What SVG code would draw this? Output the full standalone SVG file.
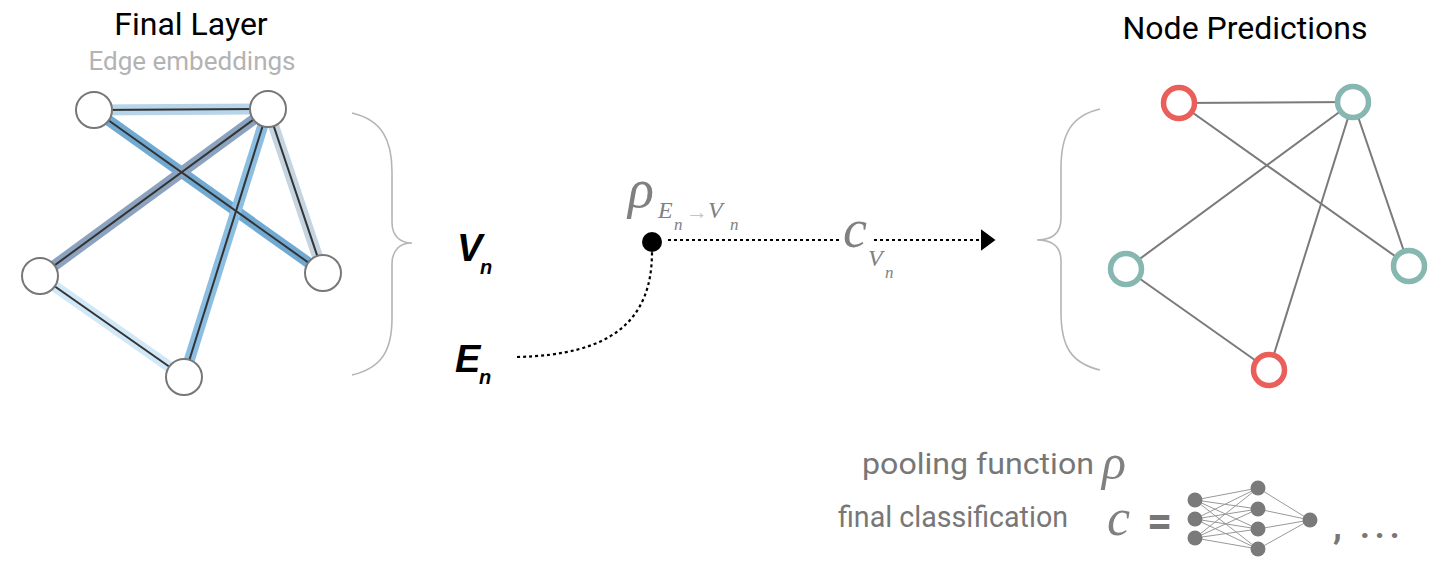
<svg xmlns="http://www.w3.org/2000/svg" width="1440" height="564" viewBox="0 0 1440 564">
<defs>
<style>
.title{font-family:Roboto,"Liberation Sans",sans-serif;font-size:32px;fill:#000;text-anchor:middle}
.sub{font-family:Roboto,"Liberation Sans",sans-serif;font-size:26px;fill:#b3b3b3;text-anchor:middle}
.lbl{font-family:Roboto,"Liberation Sans",sans-serif;font-size:29px;fill:#777}
.math{font-family:"Liberation Serif",serif;font-style:italic;fill:#808080}
.var{font-family:"Liberation Sans",sans-serif;font-style:italic;font-weight:bold;fill:#000}
.band{fill:none;stroke-width:11;stroke-linecap:butt}
.core{fill:none;stroke:#333;stroke-width:2}
.lnode{fill:#fff;stroke:#777;stroke-width:2}
.redge{stroke:#7a7a7a;stroke-width:2}
.red{fill:#fff;stroke:#eb5f5b;stroke-width:5.5}
.teal{fill:#fff;stroke:#86b7b0;stroke-width:5.5}
.brace{fill:none;stroke:#b5b5b5;stroke-width:1.6}
.dot{fill:none;stroke:#000;stroke-width:2.2;stroke-dasharray:3 3}
.nn{stroke:#999;stroke-width:1}
.nnn{fill:#7a7a7a}
</style>
<marker id="arrow" viewBox="0 0 10 10" refX="1" refY="5" markerWidth="15" markerHeight="22" markerUnits="userSpaceOnUse" orient="auto" preserveAspectRatio="none">
<path d="M0,0 L10,5 L0,10 Z" fill="#000"/>
</marker>
</defs>
<rect width="1440" height="564" fill="#fff"/>

<text class="title" x="191" y="35">Final Layer</text>
<text class="sub" x="192" y="70">Edge embeddings</text>
<text class="title" x="1245" y="39">Node Predictions</text>

<g id="connectors">
  <g id="left-edges">
    <line class="band" x1="94" y1="110" x2="268" y2="109" stroke="#b7d4e8"/>
    <line class="band" x1="94" y1="110" x2="323" y2="273" stroke="#70aad3"/>
    <line class="band" x1="268" y1="109" x2="40" y2="276" stroke="#8ba3bf"/>
    <line class="band" x1="268" y1="109" x2="184" y2="377" stroke="#8cbee2"/>
    <line class="band" x1="268" y1="109" x2="323" y2="273" stroke="#c4d4e0"/>
    <line class="band" x1="40" y1="276" x2="184" y2="377" stroke="#d0e8f7"/>
    <line class="core" x1="94" y1="110" x2="268" y2="109"/>
    <line class="core" x1="94" y1="110" x2="323" y2="273"/>
    <line class="core" x1="268" y1="109" x2="40" y2="276"/>
    <line class="core" x1="268" y1="109" x2="184" y2="377"/>
    <line class="core" x1="268" y1="109" x2="323" y2="273"/>
    <line class="core" x1="40" y1="276" x2="184" y2="377"/>
  </g>
  <g id="right-edges">
    <line class="redge" x1="1179" y1="103" x2="1353" y2="102"/>
    <line class="redge" x1="1179" y1="103" x2="1409" y2="266"/>
    <line class="redge" x1="1353" y1="102" x2="1126" y2="269"/>
    <line class="redge" x1="1353" y1="102" x2="1269" y2="370"/>
    <line class="redge" x1="1353" y1="102" x2="1409" y2="266"/>
    <line class="redge" x1="1126" y1="269" x2="1269" y2="370"/>
  </g>
  <g id="flow">
    <path class="dot" d="M517,357 C610,355 652,322 652,252"/>
    <line class="dot" x1="668" y1="240" x2="842" y2="240"/>
    <line class="dot" x1="874" y1="240" x2="982" y2="240" marker-end="url(#arrow)"/>
  </g>
</g>

<g id="left-nodes">
  <circle id="ln1" class="lnode" cx="94" cy="110" r="18"/>
  <circle id="ln2" class="lnode" cx="268" cy="109" r="18"/>
  <circle id="ln3" class="lnode" cx="40" cy="276" r="18"/>
  <circle id="ln4" class="lnode" cx="323" cy="273" r="18"/>
  <circle id="ln5" class="lnode" cx="184" cy="377" r="18"/>
</g>

<g id="right-nodes">
  <circle id="rn1" class="red" cx="1179" cy="103" r="15.5"/>
  <circle id="rn2" class="teal" cx="1353" cy="102" r="15.5"/>
  <circle id="rn3" class="teal" cx="1126" cy="269" r="15.5"/>
  <circle id="rn4" class="teal" cx="1409" cy="266" r="15.5"/>
  <circle id="rn5" class="red" cx="1269" cy="370" r="15.5"/>
</g>

<g id="braces">
  <path class="brace" d="M352,113 C382,120 392,140 392,172 L392,222 C392,236 400,243 412,243 C400,243 392,250 392,264 L392,318 C392,350 382,368 352,375"/>
  <path class="brace" d="M1100,109 C1070,116 1061,136 1061,168 L1061,218 C1061,232 1053,240 1037,240 C1053,240 1061,247 1061,261 L1061,312 C1061,345 1070,363 1100,370"/>
</g>

<g id="vn">
  <text class="var" x="457" y="261" font-size="38">V</text>
  <text class="var" x="480" y="274" font-size="20">n</text>
</g>
<g id="en">
  <text class="var" x="455" y="372" font-size="38">E</text>
  <text class="var" x="479" y="384" font-size="20">n</text>
</g>

<g id="pool">
  <circle cx="652" cy="242" r="10" fill="#000"/>
  <text class="math" x="628" y="207" font-size="54">ρ</text>
  <text class="math" x="658" y="218" font-size="24">E</text>
  <text class="math" x="674" y="230" font-size="17">n</text>
  <text x="686" y="219" font-family="'Liberation Serif',serif" font-size="22" fill="#c4c4c4">→</text>
  <text class="math" x="708" y="218" font-size="24">V</text>
  <text class="math" x="730" y="230" font-size="17">n</text>
</g>

<g id="classify">
  <text class="math" x="843" y="247" font-size="54">c</text>
  <text class="math" x="868" y="266" font-size="24">V</text>
  <text class="math" x="885" y="278" font-size="17">n</text>
</g>

<g id="legend">
  <text class="lbl" x="862" y="474" textLength="232" lengthAdjust="spacingAndGlyphs">pooling function</text>
  <text class="math" x="1102" y="479" font-size="50" fill="#777">ρ</text>
  <text class="lbl" x="838" y="527" textLength="230" lengthAdjust="spacingAndGlyphs">final classification</text>
  <text class="math" x="1107" y="535" font-size="52" fill="#777">c</text>
  <text x="1147" y="536" font-family="Roboto,'Liberation Sans',sans-serif" font-size="44" font-weight="bold" fill="#777">=</text>
  <g id="nn-icon">
    <g class="nn">
      <line x1="1195" y1="500" x2="1258" y2="488"/><line x1="1195" y1="500" x2="1258" y2="509"/><line x1="1195" y1="500" x2="1258" y2="529"/><line x1="1195" y1="500" x2="1258" y2="549"/>
      <line x1="1195" y1="519" x2="1258" y2="488"/><line x1="1195" y1="519" x2="1258" y2="509"/><line x1="1195" y1="519" x2="1258" y2="529"/><line x1="1195" y1="519" x2="1258" y2="549"/>
      <line x1="1195" y1="538" x2="1258" y2="488"/><line x1="1195" y1="538" x2="1258" y2="509"/><line x1="1195" y1="538" x2="1258" y2="529"/><line x1="1195" y1="538" x2="1258" y2="549"/>
      <line x1="1258" y1="488" x2="1310" y2="520"/><line x1="1258" y1="509" x2="1310" y2="520"/><line x1="1258" y1="529" x2="1310" y2="520"/><line x1="1258" y1="549" x2="1310" y2="520"/>
    </g>
    <g class="nnn">
      <circle cx="1195" cy="500" r="7.5"/><circle cx="1195" cy="519" r="7.5"/><circle cx="1195" cy="538" r="7.5"/>
      <circle cx="1258" cy="488" r="7.5"/><circle cx="1258" cy="509" r="7.5"/><circle cx="1258" cy="529" r="7.5"/><circle cx="1258" cy="549" r="7.5"/>
      <circle cx="1310" cy="520" r="7.5"/>
    </g>
  </g>
  <text x="1333" y="538" font-family="Roboto,'Liberation Sans',sans-serif" font-size="36" font-weight="bold" fill="#777">,</text>
  <text x="1360" y="538" font-family="Roboto,'Liberation Sans',sans-serif" font-size="34" font-weight="bold" letter-spacing="5" fill="#777">...</text>
</g>
</svg>
